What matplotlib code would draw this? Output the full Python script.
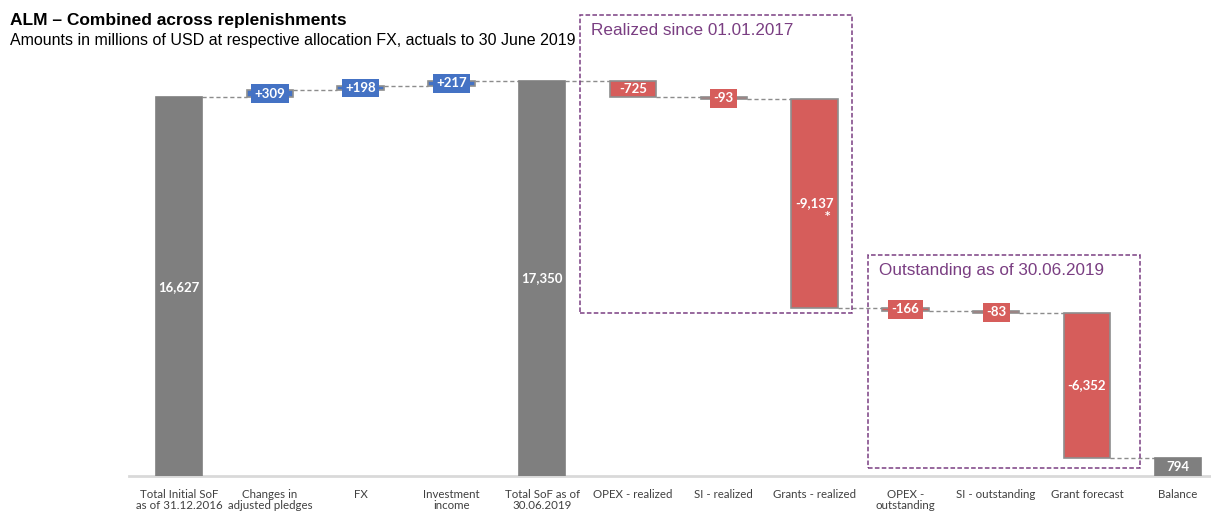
import matplotlib
matplotlib.use("Agg")
import matplotlib.pyplot as plt
from matplotlib.patches import Rectangle

categories = ["Total Initial SoF\nas of 31.12.2016", "Changes in\nadjusted pledges", "FX",
              "Investment\nincome", "Total SoF as of\n30.06.2019", "OPEX - realized",
              "SI - realized", "Grants - realized", "OPEX -\noutstanding", "SI - outstanding",
              "Grant forecast", "Balance"]
values = [16627, 309, 198, 217, 17350, -725, -93, -9137, -166, -83, -6352, 794]
is_total = [True, False, False, False, True, False, False, False, False, False, False, True]
box1_label = "Realized since 01.01.2017"
box2_label = "Outstanding as of 30.06.2019"

GREY = "#7f7f7f"
BLUE = "#4472c4"
RED = "#d65d5b"
PURPLE = "#7a3e82"
EDGE = "#8e8e8e"

W, H = 1211, 513
fig = plt.figure(figsize=(W / 100, H / 100), dpi=100)
ax = fig.add_axes([133 / W, 37 / H, (W - 133) / W, 410 / H])
ax.set_xlim(-0.507, 11.366)
ax.set_ylim(0, 18000)
for s in ax.spines.values():
    s.set_visible(False)
ax.set_yticks([])
ax.tick_params(axis="x", length=0, pad=9)
ax.set_xticks(range(len(categories)))
ax.set_xticklabels(categories, fontsize=8.3, color="#404040", family=["Lato", "DejaVu Sans"],
                   linespacing=1.05, va="top")

bw = 0.51
running = 0
levels = []
for i, (v, tot) in enumerate(zip(values, is_total)):
    if tot:
        bottom, height = 0, v
        running = v
        color = GREY
        txt = f"{v:,}"
    else:
        bottom = min(running, running + v)
        height = abs(v)
        running = running + v
        color = BLUE if v > 0 else RED
        txt = (f"+{v:,}" if v > 0 else f"-{abs(v):,}")
    levels.append(running)
    ax.bar(i, height, bottom=bottom, width=bw, color=color,
           edgecolor=(EDGE if not tot else color), linewidth=1.2, zorder=3)
    yc = bottom + height / 2
    if height > 600:
        ax.text(i, yc, txt, ha="center", va="center", color="white", fontsize=9.5,
                fontweight="bold", family=["Lato", "DejaVu Sans"], zorder=5)
    else:
        ax.text(i, yc, txt, ha="center", va="center", color="white", fontsize=9.5,
                fontweight="bold", family=["Lato", "DejaVu Sans"], zorder=5,
                bbox=dict(boxstyle="square,pad=0.25", facecolor=color, edgecolor="none"))
    if v == -9137:
        ax.text(i + 0.14, yc - 550, "*", ha="center", va="center", color="white",
                fontsize=7.5, fontweight="bold", zorder=5)

# connectors
for i in range(len(values) - 1):
    ax.plot([i + bw / 2, i + 1 - bw / 2], [levels[i], levels[i]], ls=(0, (3, 2)),
            color="#8c8c8c", lw=1, zorder=2)

# baseline
ax.plot([-0.55, 11.4], [0, 0], color="#d9d9d9", lw=2, clip_on=False, zorder=1)

# dashed boxes
ax.add_patch(Rectangle((4.416, 7150), 7.41 - 4.416, 20260 - 7150, fill=False,
                       ls=(0, (3, 1.5)), ec=PURPLE, lw=1.1, clip_on=False, zorder=4))
ax.add_patch(Rectangle((7.59, 350), 10.58 - 7.59, 9690 - 350, fill=False,
                       ls=(0, (3, 1.5)), ec=PURPLE, lw=1.1, clip_on=False, zorder=4))
ax.text(4.54, 19540, box1_label, ha="left", va="center", color=PURPLE, fontsize=12.3,
        family=["Liberation Sans", "DejaVu Sans"], clip_on=False)
ax.text(7.71, 9000, box2_label, ha="left", va="center", color=PURPLE, fontsize=12.3,
        family=["Liberation Sans", "DejaVu Sans"], clip_on=False)

fig.text(10 / W, 1 - 20 / H, "ALM – Combined across replenishments", ha="left", va="center",
         fontsize=12.5, fontweight="bold", family=["Liberation Sans", "DejaVu Sans"])
fig.text(10 / W, 1 - 41 / H, "Amounts in millions of USD at respective allocation FX, actuals to 30 June 2019",
         ha="left", va="center", fontsize=11.5, family=["Liberation Sans", "DejaVu Sans"])

fig.savefig("out.png", dpi=100)
